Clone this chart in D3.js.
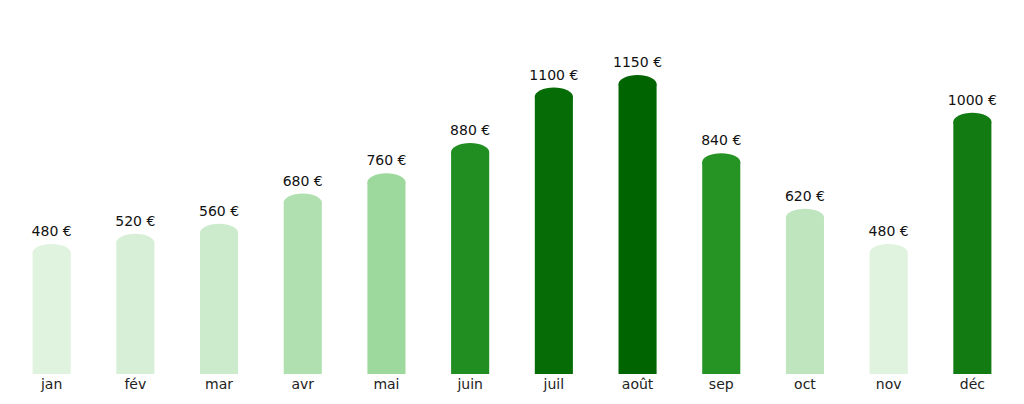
<!DOCTYPE html>
<html>
<head>
<meta charset="utf-8">
<script src="https://cdn.jsdelivr.net/npm/d3@7"></script>
<style>
  body { margin: 0; background: #fff; }
  text { font-family: 'DejaVu Sans', sans-serif; }
</style>
</head>
<body>
<div id="chart"></div>
<script>
const months = ['jan', 'fév', 'mar', 'avr', 'mai', 'juin', 'juil', 'août', 'sep', 'oct', 'nov', 'déc']
const revenue = [480, 520, 560, 680, 760, 880, 1100, 1150, 840, 620, 480, 1000]

const width = 1024
const height = 404
const margin = { top: 20, right: 10, bottom: 30, left: 10 }

const svg = d3
  .select('#chart')
  .append('svg')
  .attr('width', width)
  .attr('height', height)

const xPositionScale = d3
  .scaleBand()
  .domain(months)
  .range([10, 1014])
  .paddingInner(0.545)
  .paddingOuter(0.27)

const yPositionScale = d3
  .scaleLinear()
  .domain([0, 1150])
  .range([374, 84])

const colorScale = d3
  .scaleLinear()
  .domain([480, 780, 800, 1150])
  .range(['#dff3df', '#98d698', '#2a9a2a', '#006400'])

const bw = xPositionScale.bandwidth()
const capRy = 9

const data = months.map((m, i) => ({ month: m, value: revenue[i] }))

const bars = svg.selectAll('g.bar').data(data).enter().append('g').attr('class', 'bar')

bars
  .append('rect')
  .attr('x', d => xPositionScale(d.month))
  .attr('y', d => yPositionScale(d.value))
  .attr('width', bw)
  .attr('height', d => 374 - yPositionScale(d.value))
  .attr('fill', d => colorScale(d.value))

bars
  .append('ellipse')
  .attr('cx', d => xPositionScale(d.month) + bw / 2)
  .attr('cy', d => yPositionScale(d.value))
  .attr('rx', bw / 2)
  .attr('ry', capRy)
  .attr('fill', d => colorScale(d.value))

bars
  .append('text')
  .attr('x', d => xPositionScale(d.month) + bw / 2)
  .attr('y', d => yPositionScale(d.value) - 17)
  .attr('text-anchor', 'middle')
  .attr('font-size', 14)
  .attr('fill', '#111')
  .text(d => `${d.value} €`)

const xAxis = d3.axisBottom(xPositionScale).tickSize(0).tickPadding(5)

svg
  .append('g')
  .attr('class', 'x-axis')
  .attr('transform', 'translate(0,374)')
  .call(xAxis)
  .call(g => g.select('.domain').remove())
  .selectAll('text')
  .attr('font-size', 14)
  .attr('fill', '#222')
</script>
</body>
</html>
